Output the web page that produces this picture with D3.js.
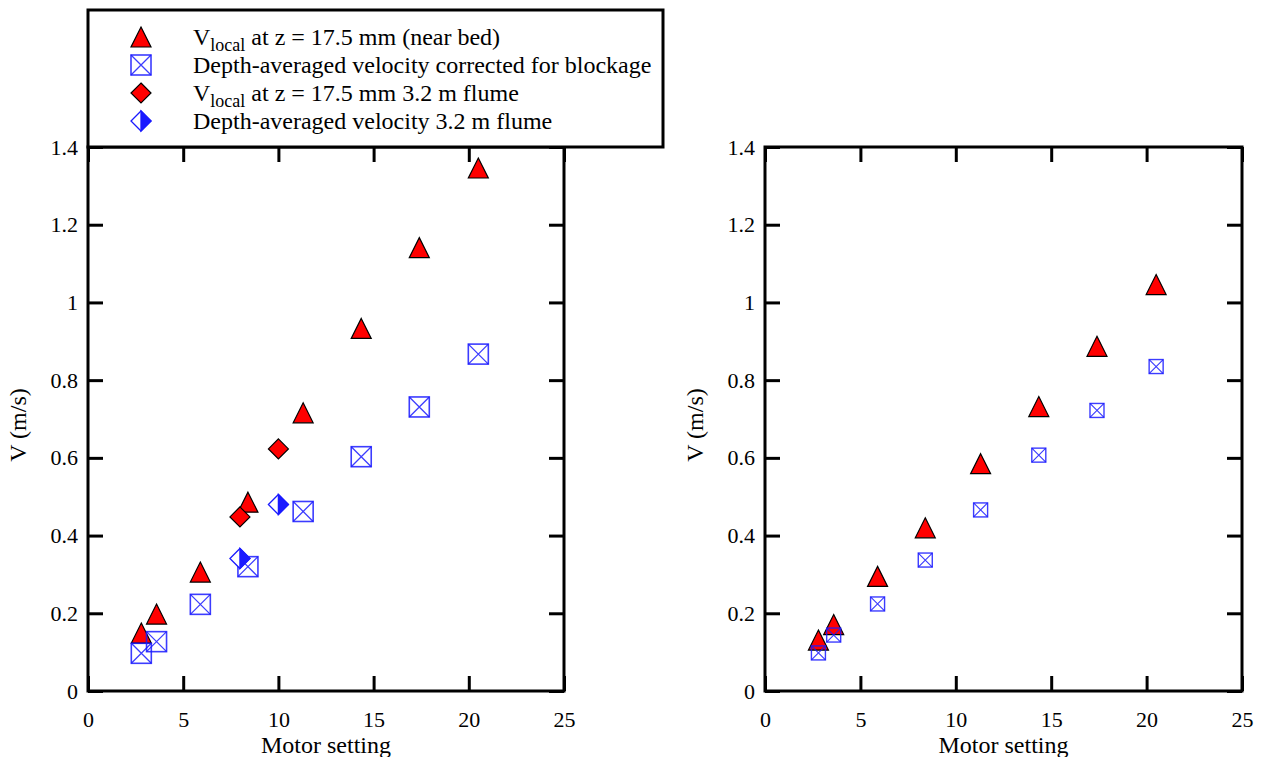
<!DOCTYPE html>
<html>
<head>
<meta charset="utf-8">
<script src="https://cdn.jsdelivr.net/npm/d3@7"></script>
<style>
  html, body { margin: 0; padding: 0; background: #fff; }
  svg { display: block; }
  text { font-family: "Liberation Serif", "Times New Roman", serif; fill: #000; }
</style>
</head>
<body>
<svg id="chart" width="1263" height="757"></svg>
<script>
// Motor settings shared by both panels
const motorSetting = [2.8, 3.6, 5.9, 8.4, 11.3, 14.35, 17.4, 20.5];

// Left panel
const vLocalLeft = [0.149, 0.198, 0.306, 0.486, 0.716, 0.933, 1.141, 1.346];
const vDepthLeft = [0.097, 0.127, 0.223, 0.320, 0.462, 0.603, 0.731, 0.867];

// 3.2 m flume runs (left panel)
const flumeMotor = [7.98, 10.0];
const flumeLocal = [0.448, 0.623];
const flumeDepth = [0.341, 0.48];

// Right panel
const vLocalRight = [0.131, 0.171, 0.295, 0.42, 0.585, 0.732, 0.887, 1.046];
const vDepthRight = [0.098, 0.144, 0.224, 0.337, 0.466, 0.607, 0.722, 0.835];

// Axes
const xTicks = [0, 5, 10, 15, 20, 25];
const xTickLabels = ["0", "5", "10", "15", "20", "25"];
const yTicks = [0, 0.2, 0.4, 0.6, 0.8, 1.0, 1.2, 1.4];
const yTickLabels = ["0", "0.2", "0.4", "0.6", "0.8", "1", "1.2", "1.4"];
const xTitle = "Motor setting";
const yTitle = "V (m/s)";

const legendLabels = [
  { main: "V", sub: "local", rest: " at z = 17.5 mm (near bed)" },
  { main: "Depth-averaged velocity corrected for blockage", sub: "", rest: "" },
  { main: "V", sub: "local", rest: " at z = 17.5 mm 3.2 m flume" },
  { main: "Depth-averaged velocity 3.2 m flume", sub: "", rest: "" }
];

const RED = "#ff0000";
const BLUE = "#1a1aff";
const SERIF = "'Liberation Serif', 'Times New Roman', serif";

const svg = d3.select("#chart");

// --- marker painters (centre cx, cy; full size s) ---
function triangle(g, cx, cy, s) {
  const h = s / 2;
  g.append("path")
    .attr("d", `M${cx},${cy - h}L${cx + h},${cy + h}L${cx - h},${cy + h}Z`)
    .attr("fill", RED).attr("stroke", "#000").attr("stroke-width", 1.2)
    .attr("stroke-linejoin", "miter");
}
function crossSquare(g, cx, cy, s, w) {
  const h = s / 2;
  g.append("rect").attr("x", cx - h).attr("y", cy - h).attr("width", s).attr("height", s)
    .attr("fill", "none").attr("stroke", BLUE).attr("stroke-width", w).attr("stroke-opacity", 0.85);
  g.append("path")
    .attr("d", `M${cx - h},${cy - h}L${cx + h},${cy + h}M${cx + h},${cy - h}L${cx - h},${cy + h}`)
    .attr("fill", "none").attr("stroke", BLUE).attr("stroke-width", w * 0.8).attr("stroke-opacity", 0.85);
}
function diamond(g, cx, cy, s) {
  const h = s / 2;
  g.append("path")
    .attr("d", `M${cx},${cy - h}L${cx + h},${cy}L${cx},${cy + h}L${cx - h},${cy}Z`)
    .attr("fill", RED).attr("stroke", "#000").attr("stroke-width", 1.2);
}
function halfDiamond(g, cx, cy, s) {
  const h = s / 2;
  g.append("path")
    .attr("d", `M${cx},${cy - h}L${cx + h},${cy}L${cx},${cy + h}L${cx - h},${cy}Z`)
    .attr("fill", "#fff").attr("stroke", BLUE).attr("stroke-width", 1.3);
  g.append("path")
    .attr("d", `M${cx},${cy - h}L${cx + h},${cy}L${cx},${cy + h}Z`)
    .attr("fill", BLUE).attr("stroke", BLUE).attr("stroke-width", 1.3);
}

// --- one panel: frame, inward ticks on all four sides, labels ---
function panel(left, right, top, bottom, titleX) {
  const x = d3.scaleLinear().domain([0, 25]).range([left, right]);
  const y = d3.scaleLinear().domain([0, 1.4]).range([bottom, top]);
  const g = svg.append("g");

  const tick = 15;
  const axL = d3.axisLeft(y).tickValues(yTicks).tickSizeInner(-tick).tickSizeOuter(0)
    .tickPadding(10).tickFormat((d, i) => yTickLabels[i]);
  const axR = d3.axisRight(y).tickValues(yTicks).tickSizeInner(-tick).tickSizeOuter(0).tickFormat("");
  const axB = d3.axisBottom(x).tickValues(xTicks).tickSizeInner(-tick).tickSizeOuter(0)
    .tickPadding(20).tickFormat((d, i) => xTickLabels[i]);
  const axT = d3.axisTop(x).tickValues(xTicks).tickSizeInner(-tick).tickSizeOuter(0).tickFormat("");

  const styleAxis = sel => {
    sel.attr("font-family", SERIF).attr("font-size", 22);
    sel.select(".domain").remove();
    sel.selectAll(".tick line").attr("stroke", "#000").attr("stroke-width", 3);
    sel.selectAll(".tick text").style("font-family", SERIF)
      .style("font-size", "22px").attr("fill", "#000");
  };
  g.append("g").attr("transform", `translate(${left},0)`).call(axL).call(styleAxis);
  g.append("g").attr("transform", `translate(${right},0)`).call(axR).call(styleAxis);
  g.append("g").attr("transform", `translate(0,${bottom})`).call(axB).call(styleAxis);
  g.append("g").attr("transform", `translate(0,${top})`).call(axT).call(styleAxis);

  g.append("rect").attr("x", left).attr("y", top)
    .attr("width", right - left).attr("height", bottom - top)
    .attr("fill", "none").attr("stroke", "#000").attr("stroke-width", 3);

  g.append("text").attr("x", (left + right) / 2).attr("y", 753)
    .attr("text-anchor", "middle").style("font-size", "24px").text(xTitle);
  g.append("text")
    .attr("transform", `translate(${titleX},${(top + bottom) / 2 + 6}) rotate(-90)`)
    .attr("text-anchor", "middle").style("font-size", "24px").text(yTitle);

  const marks = svg.append("g");
  return { x, y, marks };
}

// Left panel
const L = panel(88, 564, 147, 691, 26);
motorSetting.forEach((m, i) => triangle(L.marks, L.x(m), L.y(vLocalLeft[i]), 20));
motorSetting.forEach((m, i) => crossSquare(L.marks, L.x(m), L.y(vDepthLeft[i]), 20, 1.6));
flumeMotor.forEach((m, i) => diamond(L.marks, L.x(m), L.y(flumeLocal[i]), 20));
flumeMotor.forEach((m, i) => halfDiamond(L.marks, L.x(m), L.y(flumeDepth[i]), 20));

// Right panel
const R = panel(765, 1242, 147, 691, 703);
motorSetting.forEach((m, i) => triangle(R.marks, R.x(m), R.y(vLocalRight[i]), 20));
motorSetting.forEach((m, i) => crossSquare(R.marks, R.x(m), R.y(vDepthRight[i]), 14, 1.4));

// Legend box over the top of the left panel
const lg = svg.append("g");
lg.append("rect").attr("x", 88).attr("y", 10).attr("width", 575).attr("height", 137)
  .attr("fill", "#fff").attr("stroke", "#000").attr("stroke-width", 3);
const rowY = [37, 65, 93, 121];
triangle(lg, 141, rowY[0], 20);
crossSquare(lg, 141, rowY[1], 20, 1.6);
diamond(lg, 141, rowY[2], 20);
halfDiamond(lg, 141, rowY[3], 20);
legendLabels.forEach((l, i) => {
  const t = lg.append("text").attr("x", 193).attr("y", rowY[i] + 8).style("font-size", "24px");
  t.append("tspan").text(l.main);
  if (l.sub) {
    t.append("tspan").attr("dy", 6).style("font-size", "18px").text(l.sub);
    t.append("tspan").attr("dy", -6).text(l.rest);
  }
});
</script>
</body>
</html>
